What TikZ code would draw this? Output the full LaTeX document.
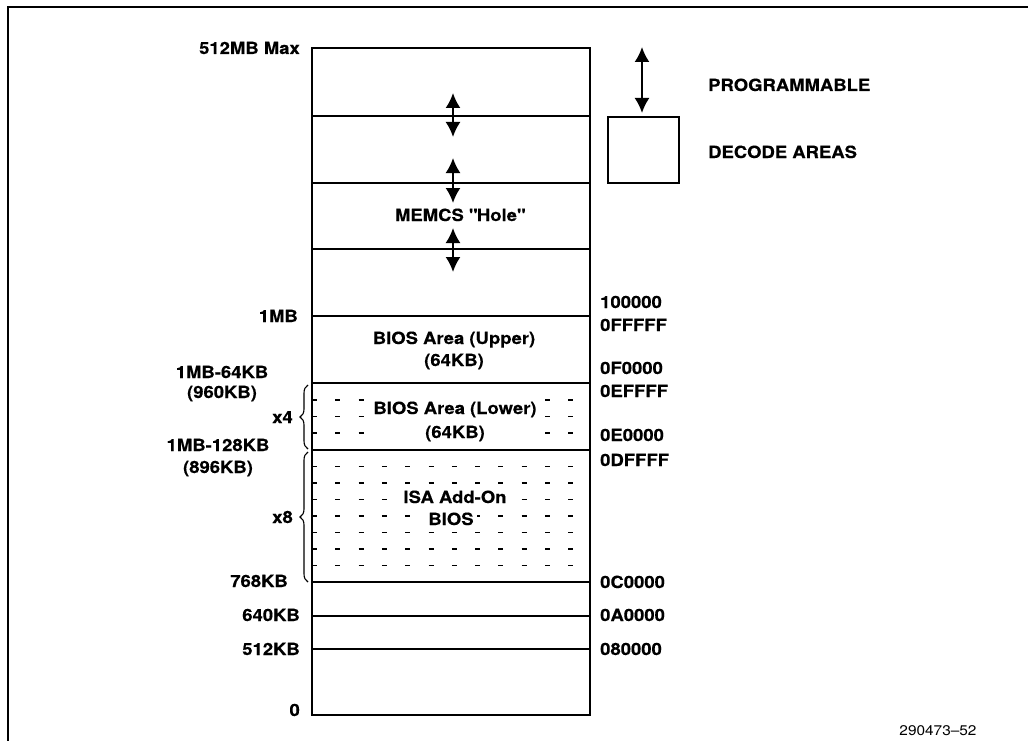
\documentclass[tikz,border=0pt]{standalone}
\usepackage{fontspec}
\setmainfont{TeX Gyre Heros}[FakeStretch=1.1, BoldFeatures={FakeBold=0.3}]
\usetikzlibrary{arrows.meta,decorations.pathreplacing}
\newcommand{\lblfont}{\fontsize{16.8pt}{20pt}\selectfont\bfseries}
\newcommand{\figfont}{\fontsize{14pt}{16pt}\selectfont}
\begin{document}
\begin{tikzpicture}[x=1pt,y=-1pt,
  lbl/.style={font=\lblfont, text height=12pt, text depth=0pt, inner sep=0pt},
  mask/.style={lbl, fill=white, inner xsep=3pt, inner ysep=2pt},
  boxline/.style={line width=1.9pt},
  thickline/.style={line width=2.6pt},
  dashrow/.style={line width=1.8pt, dash pattern=on 5pt off 18.3pt},
  dblarrow/.style={line width=1.9pt, {Latex[length=15pt,width=15pt]}-{Latex[length=15pt,width=15pt]}},
  bracestyle/.style={line width=1.1pt, decorate, decoration={brace, amplitude=8pt}},
  framestyle/.style={line width=1.3pt}]
\useasboundingbox (0,0) rectangle (1028,741);
% frame
\draw[framestyle] (8,741) -- (8,7) -- (1028,7);

% dashed sub-block rows
\foreach \y in {399.75,416.5,433.25} \draw[dashrow] (312,\y) -- (590,\y);
\foreach \k in {1,...,7} \draw[dashrow] (312,{450+16.5*\k}) -- (590,{450+16.5*\k});

% texts inside blocks (masking dashes)
\node[mask, minimum width=172pt, minimum height=24pt] (lowA) at (455,408) {BIOS Area (Lower)};
\node[mask, minimum width=172pt, minimum height=24pt] (lowB) at (455,432) {(64KB)};
\node[mask] (isaA) at (455,497) {ISA Add-On};
\node[mask] (isaB) at (451,519) {BIOS};
\node[lbl] (memcs) at (460,215) {MEMCS \textquotedbl Hole\textquotedbl};
\node[lbl] (upA) at (454,338) {BIOS Area (Upper)};
\node[lbl] (upB) at (454,360) {(64KB)};

% memory map box
\node[draw, boxline, minimum width=278pt, minimum height=667pt, inner sep=0pt] (mem) at (451,381.5) {};
\foreach \y in {116,183,249,316,383,450,616,649} \draw[boxline] (312,\y) -- (590,\y);
\draw[thickline] (312,582) -- (590,582);

% programmable arrows
\coordinate (a1t) at (453,93);  \coordinate (a1b) at (453,137);
\coordinate (a2t) at (453,158); \coordinate (a2b) at (453,203);
\coordinate (a3t) at (453,228); \coordinate (a3b) at (453,272);
\draw[dblarrow] (a1t) -- (a1b);
\draw[dblarrow] (a2t) -- (a2b);
\draw[dblarrow] (a3t) -- (a3b);

% legend
\node[draw, line width=1.7pt, minimum width=71pt, minimum height=66pt, inner sep=0pt] (leg) at (643.5,150) {};
\coordinate (legtop) at (642,47);
\coordinate (legbot) at (642,113);
\draw[dblarrow] (legtop) -- (legbot);
\node[lbl, anchor=west] (prog) at (708,85) {PROGRAMMABLE};
\node[lbl, anchor=west] (dec) at (708,152) {DECODE AREAS};

% braces
\coordinate (b4s) at (308,449); \coordinate (b4e) at (308,385);
\coordinate (b8s) at (308,582); \coordinate (b8e) at (308,452);
\draw[bracestyle] (b4s) -- (b4e);
\draw[bracestyle] (b8s) -- (b8e);

% left labels
\node[lbl, anchor=east] (l512m) at (300,48) {512MB Max};
\node[lbl, anchor=east] (l1mb) at (298,316) {1MB};
\node[lbl] (l960a) at (222,372) {1MB-64KB};
\node[lbl] (l960b) at (222,392) {(960KB)};
\node[lbl, anchor=east] (lx4) at (293,417) {x4};
\node[lbl] (l896a) at (218,445) {1MB-128KB};
\node[lbl] (l896b) at (218,467) {(896KB)};
\node[lbl, anchor=east] (lx8) at (293,517) {x8};
\node[lbl, anchor=east] (l768) at (288,581) {768KB};
\node[lbl, anchor=east] (l640) at (300,615) {640KB};
\node[lbl, anchor=east] (l512k) at (300,649) {512KB};
\node[lbl, anchor=east] (l0) at (300,710) {0};

% right labels
\node[lbl, anchor=west] (r1) at (600,302) {100000};
\node[lbl, anchor=west] (r2) at (600,325) {0FFFFF};
\node[lbl, anchor=west] (r3) at (600,368) {0F0000};
\node[lbl, anchor=west] (r4) at (600,391) {0EFFFF};
\node[lbl, anchor=west] (r5) at (600,435) {0E0000};
\node[lbl, anchor=west] (r6) at (600,460) {0DFFFF};
\node[lbl, anchor=west] (r7) at (600,582) {0C0000};
\node[lbl, anchor=west] (r8) at (600,615) {0A0000};
\node[lbl, anchor=west] (r9) at (600,649) {080000};

% figure number
\node[font=\figfont, text height=10pt, text depth=0pt, inner sep=0pt] (fig) at (938,730) {290473--52};
\end{tikzpicture}
\end{document}
